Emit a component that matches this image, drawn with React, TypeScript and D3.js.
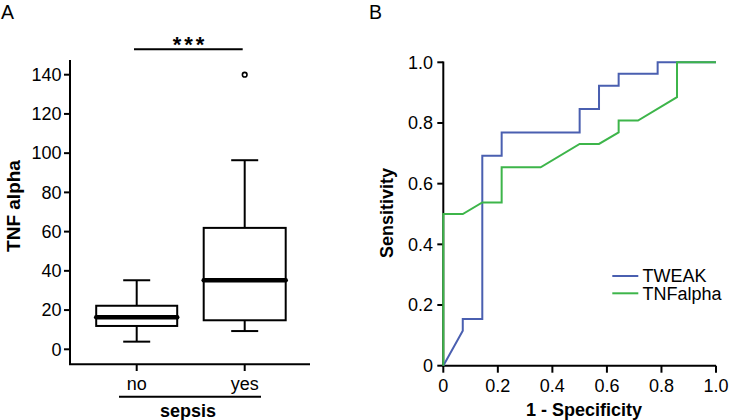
import React from "react";
import * as d3 from "d3";

const groups = ["no", "yes"];
const boxMin = [3.9, 9.3];
const boxQ1 = [11.9, 14.8];
const boxMedian = [16.3, 35.2];
const boxQ3 = [22.2, 61.9];
const boxMax = [35.2, 96.4];
const outliers = [[], [140]];
const yTicksA = [0, 20, 40, 60, 80, 100, 120, 140];

const tweakFpr = [0, 0.0714, 0.0714, 0.143, 0.143, 0.214, 0.214, 0.5, 0.5, 0.571, 0.571, 0.643, 0.643, 0.786, 0.786, 1];
const tweakTpr = [0, 0.115, 0.154, 0.154, 0.692, 0.692, 0.769, 0.769, 0.846, 0.846, 0.923, 0.923, 0.962, 0.962, 1, 1];
const tnfFpr = [0, 0, 0.0714, 0.143, 0.214, 0.214, 0.357, 0.5, 0.571, 0.643, 0.643, 0.714, 0.857, 0.857, 1];
const tnfTpr = [0, 0.5, 0.5, 0.538, 0.538, 0.654, 0.654, 0.731, 0.731, 0.769, 0.808, 0.808, 0.885, 1, 1];
const rocTicks = [0, 0.2, 0.4, 0.6, 0.8, 1.0];
const rocTickLabels = ["0", "0.2", "0.4", "0.6", "0.8", "1.0"];
const seriesNames = ["TWEAK", "TNFalpha"];
const seriesColors = ["#4a5fb0", "#3db54a"];

export default function App() {
  const font = "Liberation Sans, Arial, sans-serif";
  // Panel A scales
  const yA = d3.scaleLinear().domain([0, 140]).range([349.3, 74.7]);
  const xA = d3.scalePoint().domain(groups).range([136.7, 244.7]);
  const boxHalf = [40.5, 41];
  const capHalf = 13.5;
  // Panel B scales
  const xB = d3.scaleLinear().domain([0, 1]).range([443.3, 716]);
  const yB = d3.scaleLinear().domain([0, 1]).range([365.7, 62.3]);
  const line = d3.line<[number, number]>().x((d) => xB(d[0])).y((d) => yB(d[1]));
  const tweakPts = tweakFpr.map((f, i) => [f, tweakTpr[i]] as [number, number]);
  const tnfPts = tnfFpr.map((f, i) => [f, tnfTpr[i]] as [number, number]);

  return (
    <svg width={730} height={420} style={{ position: "absolute", left: 0, top: 0 }} fontFamily={font}>
      <rect width={730} height={420} fill="#fff" />
      {/* Panel A */}
      <text x={1} y={18.5} fontSize={19.5}>A</text>
      <line x1={70} x2={70} y1={60} y2={365} stroke="#000" strokeWidth={2} />
      <line x1={69} x2={310} y1={364.3} y2={364.3} stroke="#000" strokeWidth={2} />
      {yTicksA.map((t) => (
        <g key={t}>
          <line x1={64} x2={70} y1={yA(t)} y2={yA(t)} stroke="#000" strokeWidth={2} />
          <text x={61.5} y={yA(t)} dy="0.35em" textAnchor="end" fontSize={18}>{t}</text>
        </g>
      ))}
      {groups.map((g) => (
        <g key={g}>
          <line x1={xA(g)} x2={xA(g)} y1={364} y2={371} stroke="#000" strokeWidth={2} />
          <text x={xA(g)} y={390} textAnchor="middle" fontSize={18}>{g}</text>
        </g>
      ))}
      <line x1={119} x2={261} y1={396.7} y2={396.7} stroke="#000" strokeWidth={2} />
      <text x={188} y={417} textAnchor="middle" fontSize={18} fontWeight="bold">sepsis</text>
      <text transform={`translate(20,206) rotate(-90)`} textAnchor="middle" fontSize={19} fontWeight="bold">TNF alpha</text>
      {groups.map((g, i) => {
        const cx = xA(g)!;
        const h = boxHalf[i];
        return (
          <g key={g}>
            <line x1={cx} x2={cx} y1={yA(boxQ1[i])} y2={yA(boxMin[i])} stroke="#000" strokeWidth={2} />
            <line x1={cx} x2={cx} y1={yA(boxQ3[i])} y2={yA(boxMax[i])} stroke="#000" strokeWidth={2} />
            <line x1={cx - capHalf} x2={cx + capHalf} y1={yA(boxMin[i])} y2={yA(boxMin[i])} stroke="#000" strokeWidth={2} />
            <line x1={cx - capHalf} x2={cx + capHalf} y1={yA(boxMax[i])} y2={yA(boxMax[i])} stroke="#000" strokeWidth={2} />
            <rect x={cx - h} y={yA(boxQ3[i])} width={2 * h} height={yA(boxQ1[i]) - yA(boxQ3[i])} fill="#fff" stroke="#000" strokeWidth={2} />
            <line x1={cx - h} x2={cx + h} y1={yA(boxMedian[i])} y2={yA(boxMedian[i])} stroke="#000" strokeWidth={4.5} strokeLinecap="round" />
            {outliers[i].map((o, j) => (
              <circle key={j} cx={cx} cy={yA(o)} r={2.3} fill="#fff" stroke="#000" strokeWidth={1.6} />
            ))}
          </g>
        );
      })}
      <line x1={134} x2={242.7} y1={49.3} y2={49.3} stroke="#000" strokeWidth={2} />
      <text x={190} y={52} textAnchor="middle" fontSize={22} fontWeight="bold" letterSpacing={3}>***</text>

      {/* Panel B */}
      <text x={369} y={18.5} fontSize={19.5}>B</text>
      <line x1={443.3} x2={443.3} y1={61.5} y2={366.5} stroke="#000" strokeWidth={2} />
      <line x1={442.5} x2={716} y1={365.7} y2={365.7} stroke="#000" strokeWidth={2} />
      {rocTicks.map((t, i) => (
        <g key={"y" + t}>
          <line x1={437.3} x2={443.3} y1={yB(t)} y2={yB(t)} stroke="#000" strokeWidth={2} />
          <text x={433} y={yB(t)} dy="0.35em" textAnchor="end" fontSize={18}>{rocTickLabels[i]}</text>
        </g>
      ))}
      {rocTicks.map((t, i) => (
        <g key={"x" + t}>
          <line x1={xB(t)} x2={xB(t)} y1={365.7} y2={372.7} stroke="#000" strokeWidth={2} />
          <text x={xB(t)} y={392} textAnchor="middle" fontSize={18}>{rocTickLabels[i]}</text>
        </g>
      ))}
      <text x={584} y={416} textAnchor="middle" fontSize={18} fontWeight="bold">1 - Specificity</text>
      <text transform={`translate(393,213) rotate(-90)`} textAnchor="middle" fontSize={18} fontWeight="bold">Sensitivity</text>
      <path d={line(tweakPts)!} fill="none" stroke={seriesColors[0]} strokeWidth={2} />
      <path d={line(tnfPts)!} fill="none" stroke={seriesColors[1]} strokeWidth={2} />
      {seriesNames.map((n, i) => (
        <g key={n}>
          <line x1={612.3} x2={638.3} y1={276 + i * 17.3} y2={276 + i * 17.3} stroke={seriesColors[i]} strokeWidth={2} />
          <text x={642.5} y={276 + i * 17.3} dy="0.36em" fontSize={18}>{n}</text>
        </g>
      ))}
    </svg>
  );
}
